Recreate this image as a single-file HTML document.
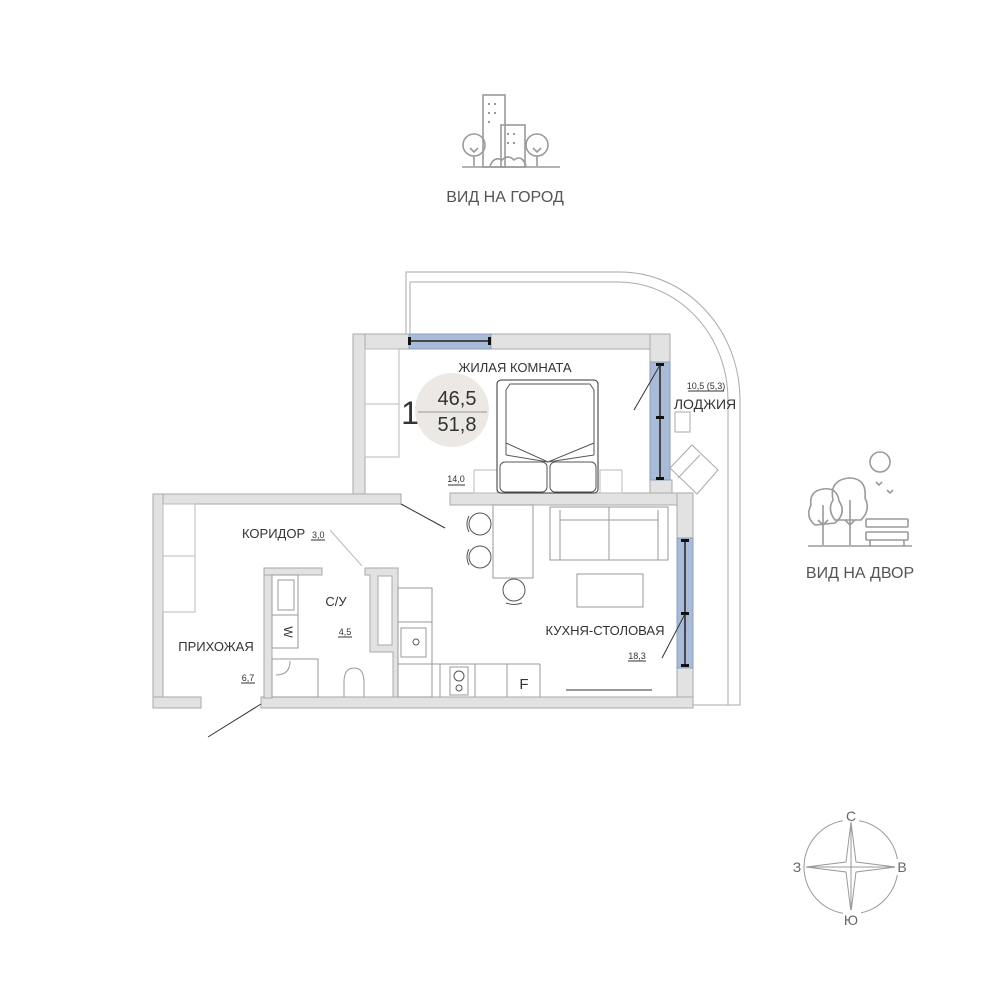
<!DOCTYPE html>
<html><head><meta charset="utf-8"><style>
html,body{margin:0;padding:0;background:#fff}
svg{display:block}
text{font-family:"Liberation Sans","DejaVu Sans",sans-serif;fill:#333}
</style></head><body>
<svg width="1000" height="1000" viewBox="0 0 1000 1000" xmlns="http://www.w3.org/2000/svg">
<!-- City icon -->
<g fill="none" stroke="#9a9a9a" stroke-width="1.6">
<rect x="483" y="95" width="22" height="72"/>
<rect x="501" y="125" width="24" height="42"/>
<circle cx="474" cy="145" r="11"/><path d="M474 156 V166 M470 148 l4 4 4-4"/>
<circle cx="537" cy="145" r="11"/><path d="M537 156 V166 M533 148 l4 4 4-4"/>
<path d="M490 166 q4 -10 12 -6 q6 -6 12 0 q8 -6 12 6"/>
<path d="M462 167 H560"/>
</g>
<g fill="#9a9a9a"><rect x="488" y="103" width="2" height="2"/><rect x="494" y="103" width="2" height="2"/><rect x="488" y="112" width="2" height="2"/><rect x="494" y="112" width="2" height="2"/><rect x="488" y="121" width="2" height="2"/><rect x="507" y="133" width="2" height="2"/><rect x="513" y="133" width="2" height="2"/><rect x="507" y="142" width="2" height="2"/><rect x="513" y="142" width="2" height="2"/></g>
<text x="505" y="202" font-size="16" text-anchor="middle" style="fill:#555">ВИД НА ГОРОД</text>
<!-- Park icon -->
<g fill="none" stroke="#9a9a9a" stroke-width="1.6">
<path d="M815 525 q-10 -8 -4 -20 q-2 -14 12 -16 q14 -2 16 12 q8 12 -4 22 z"/>
<path d="M835 520 q-8 -10 -2 -20 q-4 -20 16 -22 q18 0 16 20 q6 12 -4 22 z"/>
<path d="M823 545 V505 M818 520 l5 5 5-5 M850 545 V500 M845 520 l5 5 5-5"/>
<circle cx="880" cy="462" r="10"/>
<rect x="866" y="519" width="42" height="8" rx="1"/><rect x="866" y="532" width="42" height="8" rx="1"/>
<path d="M870 540 V546 M904 540 V546 M808 546 H912"/>
<path d="M876 482 l3 3 3-3 M887 490 l3 3 3-3"/>
</g>
<text x="860" y="578" font-size="16" text-anchor="middle" style="fill:#555">ВИД НА ДВОР</text>
<!-- Compass -->
<g stroke="#9a9a9a" fill="none" stroke-width="1">
<circle cx="851" cy="867" r="47"/>
<path d="M851 822 L856 862 L896 867 L856 872 L851 912 L846 872 L806 867 L846 862 Z" fill="#fff"/>
<path d="M851 822 V912 M806 867 H896"/>
</g>
<rect x="843" y="806" width="16" height="16" fill="#fff"/><rect x="843" y="910" width="18" height="16" fill="#fff"/><rect x="789" y="859" width="14" height="16" fill="#fff"/><rect x="895" y="859" width="14" height="16" fill="#fff"/>
<text x="851" y="821" font-size="14" text-anchor="middle" style="fill:#666">С</text>
<text x="851" y="925" font-size="14" text-anchor="middle" style="fill:#666">Ю</text>
<text x="797" y="872" font-size="14" text-anchor="middle" style="fill:#666">З</text>
<text x="902" y="872" font-size="14" text-anchor="middle" style="fill:#666">В</text>

<!-- Loggia outline -->
<g fill="none" stroke="#aaa" stroke-width="1">
<path d="M406 334 V272 H620 A120 128 0 0 1 740 400 V705 H693"/>
<path d="M410 334 V282 H618 A110 118 0 0 1 728 400 V705"/>
</g>
<!-- Walls -->
<g fill="#e2e2e2" stroke="#aaa" stroke-width="1">
<rect x="353" y="334" width="317" height="15"/>
<rect x="353" y="334" width="12" height="160"/>
<rect x="650" y="334" width="20" height="28"/>
<rect x="650" y="480" width="22" height="15"/>
<rect x="450" y="493" width="243" height="12"/>
<rect x="677" y="493" width="16" height="45"/>
<rect x="677" y="668" width="16" height="40"/>
<rect x="153" y="494" width="248" height="10"/>
<rect x="153" y="494" width="10" height="214"/>
<rect x="153" y="697" width="48" height="11"/>
<rect x="261" y="697" width="432" height="11"/>
<rect x="264" y="568" width="8" height="130"/>
<rect x="264" y="568" width="58" height="7"/>
<path d="M365 568 H398 V697 H393 V652 H370 V575 H365 Z"/>
</g>
<rect x="378" y="576" width="14" height="69" fill="#fff" stroke="#aaa"/>
<!-- Windows -->
<g fill="#a9bbd6" stroke="#8aa0c0">
<rect x="409" y="334" width="82" height="15"/>
<rect x="650" y="362" width="20" height="118"/>
<rect x="677" y="538" width="16" height="130"/>
</g>
<g stroke="#222" stroke-width="1.5">
<path d="M411 341 H489 M660 365 V478 M685 541 V666"/>
</g>
<g fill="#111"><rect x="408" y="337" width="3" height="8"/><rect x="488" y="337" width="3" height="8"/><rect x="656" y="363" width="8" height="3"/><rect x="656" y="416" width="8" height="3"/><rect x="656" y="477" width="8" height="3"/><rect x="681" y="539" width="8" height="3"/><rect x="681" y="612" width="8" height="3"/><rect x="681" y="664" width="8" height="3"/></g>
<!-- door swings -->
<g stroke="#333" stroke-width="1" fill="none">
<path d="M660 365 L634 410"/><path d="M685 614 L662 658"/>
<path d="M401 504 L445 528"/><path d="M261 704 L208 737"/>
<path d="M330 530 L362 566" stroke="#bbb"/>
</g>
<!-- Furniture -->
<g fill="none" stroke="#555" stroke-width="1">
<rect x="365" y="349" width="34" height="108" stroke="#bbb"/><path d="M365 404 H399" stroke="#bbb"/>
<rect x="163" y="504" width="32" height="108" stroke="#bbb"/><path d="M163 556 H195" stroke="#bbb"/>
<rect x="474" y="470" width="23" height="23" stroke="#bbb"/><rect x="600" y="470" width="22" height="23" stroke="#bbb"/>
<rect x="497" y="380" width="101" height="113" rx="4" stroke="#333"/>
<path d="M506 390 L510 384 H590 L594 390 V443 L548 462 L506 443 Z M506 443 V455 M594 443 V455 M506 455 L548 462 L594 455"/>
<rect x="500" y="462" width="47" height="30" rx="5"/><rect x="550" y="462" width="46" height="30" rx="5"/>
<rect x="675" y="412" width="15" height="20" stroke="#aaa"/>
<path d="M670 468 L692 445 L718 470 L697 494 Z M678 478 L700 455" stroke="#aaa"/>
<rect x="493" y="505" width="40" height="73" stroke="#999"/>
<circle cx="480" cy="524" r="11"/><circle cx="480" cy="557" r="11"/><circle cx="514" cy="590" r="11"/>
<path d="M469 516 q-4 8 0 16 M469 549 q-4 8 0 16 M506 603 q8 3 16 0"/>
<rect x="550" y="507" width="118" height="53" stroke="#999"/><path d="M560 520 H658 M560 510 V560 M658 510 V560 M609 507 V560" stroke="#999"/>
<rect x="577" y="574" width="66" height="33" stroke="#999"/>
<path d="M566 690 H652" stroke="#999" stroke-width="2"/>
<rect x="398" y="588" width="34" height="109" stroke="#999"/><path d="M398 622 H432 M398 664 H540 M475 664 V697 M507 664 V697 M540 664 V697 M440 664 V697" stroke="#999"/>
<rect x="401" y="628" width="25" height="29" stroke="#999"/><circle cx="416" cy="642" r="3"/>
<rect x="450" y="667" width="18" height="28" stroke="#999"/><circle cx="459" cy="676" r="5"/><circle cx="459" cy="688" r="3"/>
<rect x="272" y="575" width="26" height="40" stroke="#999"/><rect x="278" y="580" width="16" height="30" stroke="#999"/>
<rect x="272" y="615" width="26" height="33" stroke="#999"/>
<rect x="272" y="659" width="46" height="38" stroke="#999"/><path d="M276 675 q14 0 14 -14" stroke="#999"/>
<path d="M344 697 V682 q0 -14 10 -14 q10 0 10 14 V697" stroke="#999"/>
</g>
<text x="284" y="632" font-size="12" transform="rotate(90 284 632)" text-anchor="middle">W</text>
<text x="524" y="689" font-size="15" text-anchor="middle">F</text>
<!-- Area circle -->
<circle cx="452" cy="410" r="37" fill="#ece8e4"/>
<path d="M418 412 H487" stroke="#999"/>
<text x="410" y="424" font-size="32" text-anchor="middle">1</text>
<text x="457" y="405" font-size="20" text-anchor="middle">46,5</text>
<text x="457" y="431" font-size="20" text-anchor="middle">51,8</text>
<!-- Labels -->
<text x="515" y="372" font-size="13" text-anchor="middle">ЖИЛАЯ КОМНАТА</text>
<text x="456" y="482" font-size="9" text-anchor="middle">14,0</text><path d="M448 485 H465" stroke="#333"/>
<text x="706" y="389" font-size="9" text-anchor="middle">10,5 (5,3)</text><path d="M688 391 H724" stroke="#333"/>
<text x="705" y="409" font-size="14" text-anchor="middle">ЛОДЖИЯ</text>
<text x="242" y="538" font-size="13">КОРИДОР</text><text x="312" y="538" font-size="9">3,0</text><path d="M311 540 H325" stroke="#333"/>
<text x="336" y="606" font-size="13" text-anchor="middle">С/У</text>
<text x="345" y="635" font-size="9" text-anchor="middle">4,5</text><path d="M338 637 H352" stroke="#333"/>
<text x="216" y="651" font-size="13" text-anchor="middle">ПРИХОЖАЯ</text>
<text x="248" y="681" font-size="9" text-anchor="middle">6,7</text><path d="M241 683 H255" stroke="#333"/>
<text x="605" y="635" font-size="13" text-anchor="middle">КУХНЯ-СТОЛОВАЯ</text>
<text x="637" y="659" font-size="9" text-anchor="middle">18,3</text><path d="M628 661 H646" stroke="#333"/>
</svg>
</body></html>
